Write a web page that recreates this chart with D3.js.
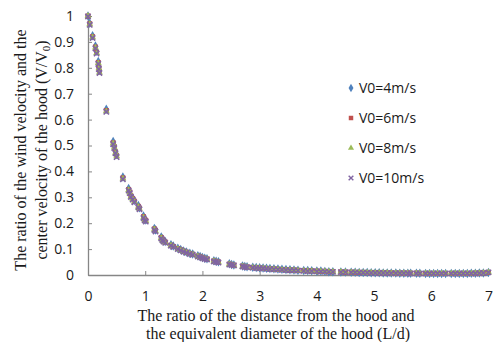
<!DOCTYPE html>
<html>
<head>
<meta charset="utf-8">
<script src="https://cdn.jsdelivr.net/npm/d3@7"></script>
<style>
  body { margin: 0; background: #fff; }
  svg { display: block; }
</style>
</head>
<body>
<div id="chart"></div>
<script>
// distance ratio L/d
const distance = [
  0, 0.03, 0.08, 0.13, 0.15, 0.18, 0.19, 0.2, 0.32, 0.44,
  0.46, 0.48, 0.5, 0.61, 0.71, 0.73, 0.75, 0.78, 0.81, 0.88,
  0.9, 0.97, 0.99, 1.01, 1.16, 1.18, 1.28, 1.3, 1.32, 1.35,
  1.45, 1.49, 1.57, 1.62, 1.67, 1.72, 1.78, 1.83, 1.92, 1.96,
  2.0, 2.04, 2.08, 2.2, 2.24, 2.28, 2.47, 2.51, 2.55, 2.7,
  2.74, 2.78, 2.88, 2.94, 3.0, 3.06, 3.12, 3.18, 3.25, 3.32,
  3.39, 3.46, 3.53, 3.6, 3.67, 3.77, 3.84, 3.91, 4.0, 4.07,
  4.14, 4.21, 4.28, 4.42, 4.5, 4.6, 4.67, 4.74, 4.81, 4.88,
  4.95, 5.02, 5.09, 5.16, 5.23, 5.3, 5.38, 5.45, 5.52, 5.59,
  5.64, 5.74, 5.8, 5.9, 5.97, 6.04, 6.11, 6.18, 6.25, 6.35,
  6.42, 6.49, 6.56, 6.63, 6.7, 6.77, 6.84, 6.91, 7.0
];

// velocity ratio V/V0 for each inlet velocity
const v4 = [
  1.0, 0.972, 0.924, 0.884, 0.864, 0.824, 0.805, 0.79, 0.64, 0.515,
  0.5, 0.48, 0.465, 0.378, 0.334, 0.323, 0.308, 0.298, 0.288, 0.268,
  0.26, 0.228, 0.218, 0.212, 0.18, 0.174, 0.147, 0.14, 0.134, 0.129,
  0.117, 0.112, 0.103, 0.098, 0.093, 0.089, 0.084, 0.081, 0.074, 0.071,
  0.068, 0.065, 0.063, 0.055, 0.053, 0.051, 0.043, 0.041, 0.039, 0.035,
  0.033, 0.032, 0.03, 0.029, 0.028, 0.027, 0.026, 0.025, 0.024, 0.023,
  0.022, 0.021, 0.02, 0.019, 0.018, 0.017, 0.017, 0.016, 0.015, 0.015,
  0.014, 0.013, 0.013, 0.012, 0.012, 0.011, 0.011, 0.01, 0.01, 0.01,
  0.009, 0.009, 0.009, 0.008, 0.008, 0.008, 0.008, 0.007, 0.007, 0.007,
  0.007, 0.007, 0.007, 0.006, 0.006, 0.006, 0.006, 0.006, 0.006, 0.006,
  0.006, 0.006, 0.006, 0.006, 0.007, 0.007, 0.008, 0.008, 0.01
];
const v6 = [
  1.0, 0.97, 0.92, 0.88, 0.86, 0.82, 0.8, 0.785, 0.635, 0.51,
  0.495, 0.475, 0.46, 0.375, 0.33, 0.32, 0.305, 0.295, 0.285, 0.265,
  0.258, 0.225, 0.215, 0.21, 0.178, 0.172, 0.145, 0.138, 0.132, 0.127,
  0.115, 0.11, 0.102, 0.097, 0.092, 0.088, 0.083, 0.08, 0.073, 0.07,
  0.067, 0.064, 0.062, 0.054, 0.052, 0.05, 0.042, 0.04, 0.038, 0.034,
  0.032, 0.031, 0.029, 0.028, 0.027, 0.026, 0.025, 0.024, 0.023, 0.022,
  0.021, 0.02, 0.019, 0.019, 0.018, 0.017, 0.016, 0.016, 0.015, 0.014,
  0.014, 0.013, 0.013, 0.012, 0.011, 0.011, 0.01, 0.01, 0.01, 0.009,
  0.009, 0.009, 0.008, 0.008, 0.008, 0.008, 0.007, 0.007, 0.007, 0.007,
  0.007, 0.007, 0.006, 0.006, 0.006, 0.006, 0.006, 0.006, 0.006, 0.006,
  0.006, 0.006, 0.006, 0.006, 0.006, 0.007, 0.007, 0.008, 0.01
];
const v8 = [
  1.0, 0.968, 0.918, 0.878, 0.857, 0.818, 0.798, 0.782, 0.632, 0.508,
  0.492, 0.472, 0.458, 0.372, 0.328, 0.318, 0.303, 0.293, 0.283, 0.263,
  0.256, 0.222, 0.213, 0.208, 0.176, 0.17, 0.143, 0.136, 0.13, 0.125,
  0.114, 0.109, 0.101, 0.096, 0.091, 0.087, 0.082, 0.079, 0.072, 0.069,
  0.066, 0.063, 0.061, 0.053, 0.051, 0.049, 0.041, 0.039, 0.037, 0.033,
  0.032, 0.03, 0.028, 0.027, 0.026, 0.025, 0.024, 0.023, 0.022, 0.021,
  0.02, 0.019, 0.019, 0.018, 0.017, 0.016, 0.016, 0.015, 0.014, 0.014,
  0.013, 0.013, 0.012, 0.012, 0.011, 0.01, 0.01, 0.01, 0.009, 0.009,
  0.009, 0.008, 0.008, 0.008, 0.008, 0.007, 0.007, 0.007, 0.007, 0.007,
  0.006, 0.006, 0.006, 0.006, 0.006, 0.006, 0.006, 0.006, 0.006, 0.006,
  0.006, 0.006, 0.006, 0.006, 0.006, 0.007, 0.007, 0.008, 0.01
];
const v10 = [
  0.998, 0.966, 0.915, 0.875, 0.855, 0.815, 0.795, 0.78, 0.63, 0.505,
  0.49, 0.47, 0.455, 0.37, 0.326, 0.316, 0.301, 0.291, 0.281, 0.261,
  0.254, 0.22, 0.211, 0.206, 0.174, 0.168, 0.141, 0.134, 0.129, 0.124,
  0.113, 0.108, 0.1, 0.095, 0.09, 0.086, 0.081, 0.078, 0.071, 0.068,
  0.065, 0.062, 0.06, 0.052, 0.05, 0.048, 0.04, 0.039, 0.037, 0.033,
  0.031, 0.03, 0.028, 0.027, 0.026, 0.025, 0.024, 0.023, 0.022, 0.021,
  0.02, 0.019, 0.018, 0.018, 0.017, 0.016, 0.015, 0.015, 0.014, 0.013,
  0.013, 0.012, 0.012, 0.011, 0.011, 0.01, 0.01, 0.009, 0.009, 0.009,
  0.008, 0.008, 0.008, 0.008, 0.007, 0.007, 0.007, 0.007, 0.007, 0.006,
  0.006, 0.006, 0.006, 0.006, 0.006, 0.006, 0.006, 0.006, 0.006, 0.006,
  0.006, 0.006, 0.006, 0.006, 0.006, 0.006, 0.007, 0.008, 0.01
];

const seriesNames = ["V0=4m/s", "V0=6m/s", "V0=8m/s", "V0=10m/s"];
const seriesValues = [v4, v6, v8, v10];
const xTicks = [0, 1, 2, 3, 4, 5, 6, 7];
const yTicks = [0, 0.1, 0.2, 0.3, 0.4, 0.5, 0.6, 0.7, 0.8, 0.9, 1];

const width = 494, height = 342;
const colors = ["#4f81bd", "#c0504d", "#9bbb59", "#8064a2"];
const shapes = [d3.symbolDiamond, d3.symbolSquare, d3.symbolTriangle, d3.symbolX];
const sizes = [26, 25, 20, 20];

const svg = d3.select("#chart")
  .append("svg")
  .attr("width", width)
  .attr("height", height);

const x = d3.scaleLinear().domain([0, 7]).range([88, 488.5]);
const y = d3.scaleLinear().domain([0, 1]).range([275, 16]);

const axisColor = "#868686";
const tickFont = "'Open Sans', sans-serif";

// x axis (ticks point inward)
const xAxis = svg.append("g")
  .attr("transform", `translate(0, ${y(0)})`)
  .call(d3.axisBottom(x).tickValues(xTicks).tickFormat(d3.format("d"))
    .tickSizeInner(-4).tickSizeOuter(0).tickPadding(16));

// y axis
const yAxis = svg.append("g")
  .attr("transform", `translate(${x(0)}, 0)`)
  .call(d3.axisLeft(y).tickValues(yTicks).tickFormat(d => d === 0 || d === 1 ? d : d3.format(".1f")(d))
    .tickSizeInner(-4).tickSizeOuter(0).tickPadding(14));

[xAxis, yAxis].forEach(a => {
  a.select(".domain").attr("stroke", axisColor).attr("stroke-width", 1.3);
  a.selectAll(".tick line").attr("stroke", axisColor);
  a.selectAll(".tick text")
    .style("font-family", tickFont)
    .style("font-size", "14px")
    .attr("fill", "#1a1a1a");
});

// points
const sym = d3.symbol();
seriesValues.forEach((vals, i) => {
  const pts = distance.map((d, j) => ({ x: d, v: vals[j] }));
  const g = svg.append("g");
  g.selectAll("path")
    .data(pts)
    .enter()
    .append("path")
    .attr("transform", d => `translate(${x(d.x)}, ${y(d.v)})`)
    .attr("d", sym.type(shapes[i]).size(sizes[i]))
    .attr("fill", i === 3 ? "none" : colors[i])
    .attr("stroke", i === 3 ? colors[i] : "none")
    .attr("stroke-width", i === 3 ? 1.6 : 0);
});

// legend
const legend = svg.append("g");
seriesNames.forEach((name, i) => {
  const row = legend.append("g").attr("transform", `translate(351, ${88 + i * 30})`);
  row.append("path")
    .attr("d", sym.type(shapes[i]).size(sizes[i] * 0.8))
    .attr("fill", i === 3 ? "none" : colors[i])
    .attr("stroke", i === 3 ? colors[i] : "none")
    .attr("stroke-width", i === 3 ? 1.4 : 0);
  row.append("text")
    .attr("x", 8)
    .attr("y", 5)
    .style("font-family", tickFont)
    .style("font-size", "14px")
    .attr("fill", "#1a1a1a")
    .text(name);
});

// axis titles
const serif = "'Liberation Serif', 'Times New Roman', serif";
svg.append("text")
  .attr("x", 276).attr("y", 321)
  .attr("text-anchor", "middle")
  .style("font-family", serif).style("font-size", "16px").attr("fill", "#1a1a1a")
  .text("The ratio of the distance from the hood and");
svg.append("text")
  .attr("x", 278).attr("y", 339)
  .attr("text-anchor", "middle")
  .style("font-family", serif).style("font-size", "16px").attr("fill", "#1a1a1a")
  .text("the equivalent diameter of the hood (L/d)");

const yTitle = svg.append("g").attr("transform", "translate(0, 150) rotate(-90)");
yTitle.append("text")
  .attr("x", 0).attr("y", 26)
  .attr("text-anchor", "middle")
  .style("font-family", serif).style("font-size", "16px").attr("fill", "#1a1a1a")
  .text("The ratio of the wind velocity and the");
const t2 = yTitle.append("text")
  .attr("x", 0).attr("y", 47)
  .attr("text-anchor", "middle")
  .style("font-family", serif).style("font-size", "16px").attr("fill", "#1a1a1a");
t2.append("tspan").text("center velocity of the hood (V/V");
t2.append("tspan").attr("dy", 3).style("font-size", "11px").text("0");
t2.append("tspan").attr("dy", -3).text(")");
</script>
</body>
</html>
